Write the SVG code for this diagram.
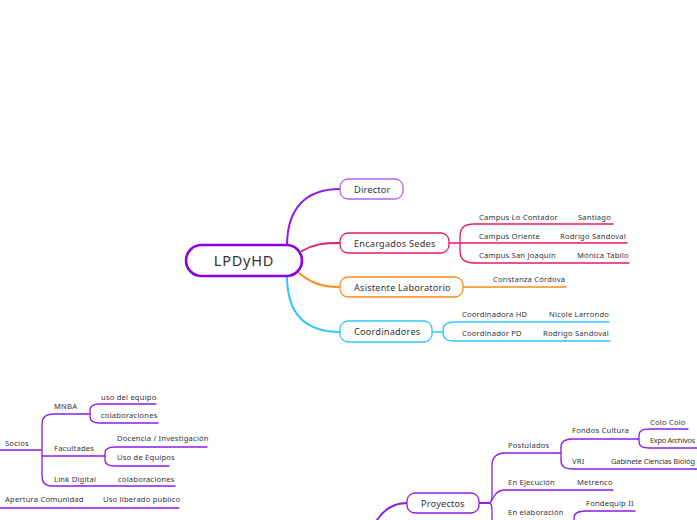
<svg xmlns="http://www.w3.org/2000/svg" width="697" height="520" viewBox="0 0 697 520">
<style>
text{font-family:"Noto Sans","Liberation Sans",sans-serif;fill:#333;}
.t{font-size:7.6px;letter-spacing:0.2px;}
.n{font-size:9.2px;letter-spacing:0.2px;}
.box{fill:#fff;stroke-width:1.3;}
.c{fill:none;stroke-linecap:round;}
.pu{stroke:#8a1ee6;}
.pk{stroke:#e8196a;}
.or{stroke:#ff8a1a;}
.cy{stroke:#33c3ff;}
.w2{stroke-width:2;}
.w1{stroke-width:1.3;}
</style>
<rect width="697" height="520" fill="#fff"/>
<g id="connectors">
<path class="c pu w2" d="M287,246 C287,208 306,189 340,189"/>
<path class="c pk w2" d="M302,251 C314,244 324,243 340,243"/>
<path class="c or w2" d="M299,273 C311,283 322,287 340,287"/>
<path class="c cy w2" d="M287,276 C287,314 305,332 340,332"/>
<path class="c pk w1" d="M449,243 H460 M474,224 Q460,224 460,236 V251 Q460,263 474,263 H629 M474,224 H613 M460,243 H627"/>
<path class="c or w1" d="M463,287 H566"/>
<path class="c cy w1" d="M432,332 H443 M455,322 Q443,322 443,330 V333 Q443,341 455,341 H610 M455,322 H609"/>
<path class="c pu w1" d="M0,450 H42 M54,414 Q42,414 42,424 V476 Q42,486 52,486 H175 M54,414 H90 M42,456 H105"/>
<path class="c pu w1" d="M100,404 Q90,404 90,410 V417 Q90,423 100,423 H158 M100,404 H156"/>
<path class="c pu w1" d="M115,447 Q105,447 105,453 V460 Q105,466 115,466 H169 M115,447 H207"/>
<path class="c pu w1" d="M0,508 H179"/>
<path class="c pu w2" d="M377,520 C385,508 395,503 407,503"/>
<path class="c pu w2" d="M479,503 H489"/>
<path class="c pu w1" d="M489,503 Q492,503 492,495 V466 Q492,453 505,453 H560"/>
<path class="c pu w1" d="M489,503 C493,503 493,490 505,490 H613"/>
<path class="c pu w1" d="M489,503 Q492,503 492,511 V520"/>
<path class="c pu w1" d="M560,453 H561 M573,439 Q561,439 561,447 V461 Q561,469 573,469 H697 M573,439 H638"/>
<path class="c pu w1" d="M638,439 H639 M649,429 Q639,429 639,435 V442 Q639,448 649,448 H697 M649,429 H688"/>
<path class="c pu w1" d="M586,511 Q574,511 574,518 V520 M586,511 H635"/>
</g>
<g id="center">
<rect x="186" y="245" width="116" height="31" rx="15.5" fill="#fff" stroke="#8a00e6" stroke-width="2.6"/>
<text x="244" y="266" text-anchor="middle" font-size="14.5" letter-spacing="0.8">LPDyHD</text>
</g>
<g id="director">
<rect class="box" x="340" y="179" width="63" height="20" rx="8" stroke="#b266f0"/>
<text class="n" x="354" y="192.5">Director</text>
</g>
<g id="encargados">
<rect class="box" x="340" y="233" width="109" height="20" rx="8" stroke="#e8196a"/>
<text class="n" x="354" y="246.5">Encargados Sedes</text>
<text class="t" x="479" y="220">Campus Lo Contador</text>
<text class="t" x="578" y="220">Santiago</text>
<text class="t" x="479" y="239">Campus Oriente</text>
<text class="t" x="560" y="239">Rodrigo Sandoval</text>
<text class="t" x="479" y="258">Campus San Joaquín</text>
<text class="t" x="577" y="258">Mónica Tabilo</text>
</g>
<g id="asistente">
<rect class="box" x="340" y="277" width="123" height="20" rx="8" stroke="#ff8a1a"/>
<text class="n" x="354" y="290.5">Asistente Laboratorio</text>
<text class="t" x="493" y="282">Constanza Córdova</text>
</g>
<g id="coordinadores">
<rect class="box" x="340" y="321" width="92" height="21" rx="8" stroke="#33c3ff"/>
<text class="n" x="354" y="335">Coordinadores</text>
<text class="t" x="462" y="317">Coordinadora HD</text>
<text class="t" x="549" y="317">Nicole Larrondo</text>
<text class="t" x="462" y="336">Coordinador PD</text>
<text class="t" x="543" y="336">Rodrigo Sandoval</text>
</g>
<g id="socios">
<text class="t" x="5" y="446">Socios</text>
<text class="t" x="54" y="409">MNBA</text>
<text class="t" x="101" y="400">uso del equipo</text>
<text class="t" x="101" y="418">colaboraciones</text>
<text class="t" x="54" y="451">Facultades</text>
<text class="t" x="117" y="441">Docencia / Investigación</text>
<text class="t" x="117" y="460">Uso de Equipos</text>
<text class="t" x="54" y="482">Link Digital</text>
<text class="t" x="118" y="482">colaboraciones</text>
</g>
<g id="apertura">
<text class="t" x="5" y="502">Apertura Comunidad</text>
<text class="t" x="103" y="502">Uso liberado publico</text>
</g>
<g id="proyectos">
<rect class="box" x="407" y="493" width="72" height="20" rx="8" stroke="#8a1ee6"/>
<text class="n" x="443" y="506.5" text-anchor="middle">Proyectos</text>
<text class="t" x="508" y="448">Postulados</text>
<text class="t" x="572" y="433">Fondos Cultura</text>
<text class="t" x="650" y="425">Colo Colo</text>
<text x="650" y="443" font-size="7.5" textLength="45" lengthAdjust="spacing">Expo Archivos</text>
<text x="572" y="464" font-size="7.6" letter-spacing="0.2">VRI</text>
<text x="611" y="464" font-size="7.5" textLength="84" lengthAdjust="spacing">Gabinete Ciencias Biológ</text>
<text class="t" x="508" y="485">En Ejecución</text>
<text class="t" x="577" y="485">Metrenco</text>
<text class="t" x="508" y="515">En elaboración</text>
<text class="t" x="586" y="506">Fondequip II</text>
</g>
</svg>
